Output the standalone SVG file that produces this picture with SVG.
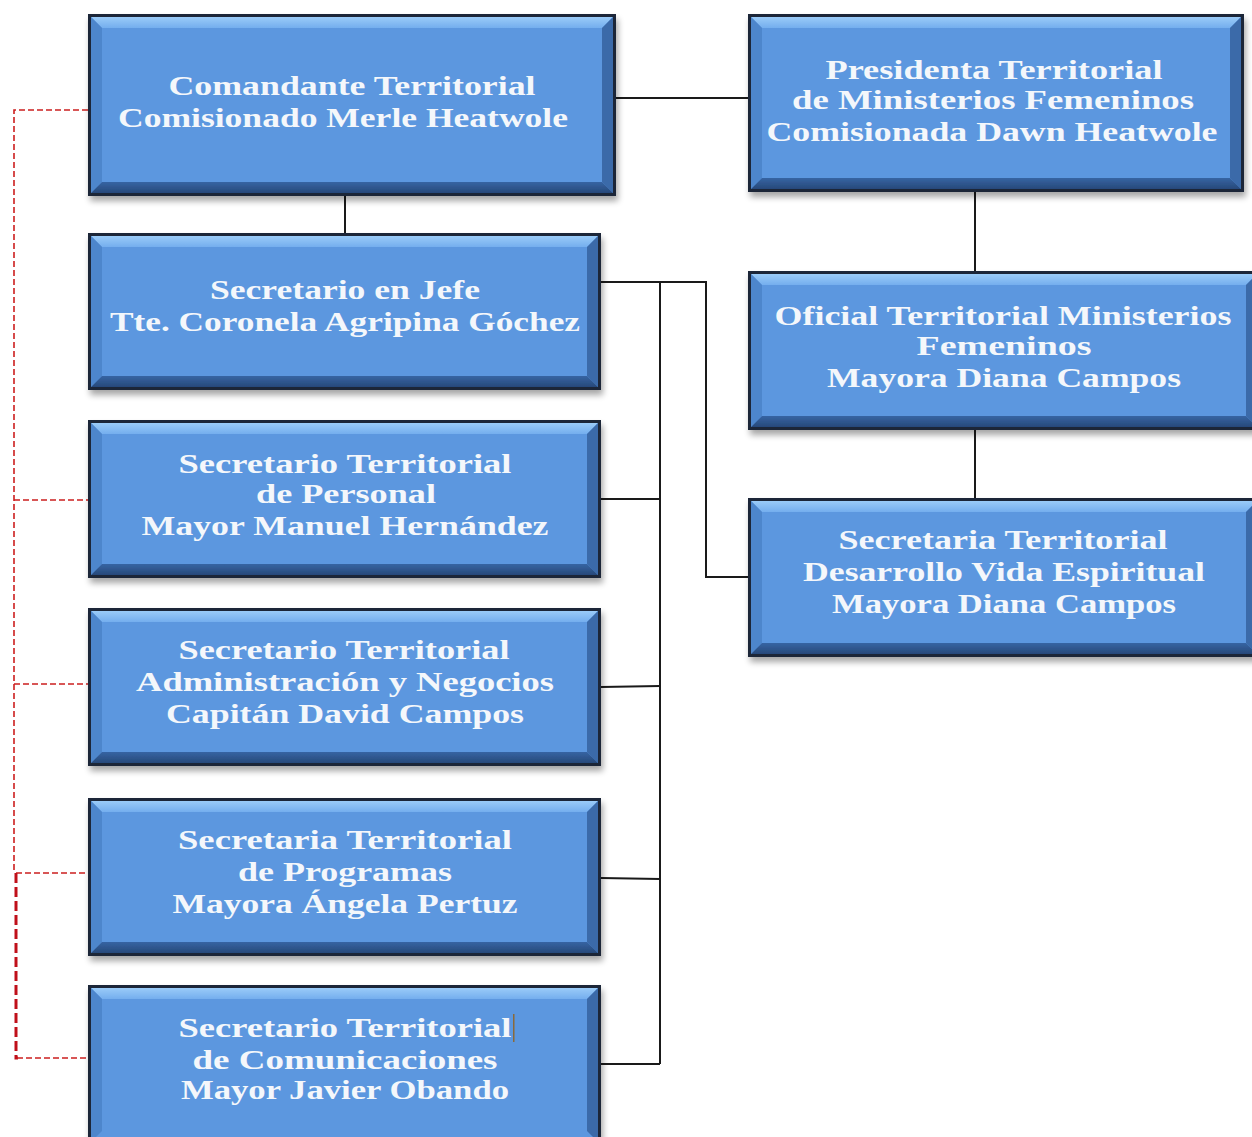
<svg xmlns="http://www.w3.org/2000/svg" width="1252" height="1137" viewBox="0 0 1252 1137">
<defs>
<filter id="sh" x="-5%" y="-5%" width="112%" height="120%">
<feGaussianBlur in="SourceAlpha" stdDeviation="3"/>
<feOffset dx="2" dy="5" result="b"/>
<feComponentTransfer><feFuncA type="linear" slope="0.35"/></feComponentTransfer>
<feMerge><feMergeNode/><feMergeNode in="SourceGraphic"/></feMerge>
</filter>
<linearGradient id="gt" x1="0" y1="0" x2="0" y2="1"><stop offset="0" stop-color="#9ACBF8"/><stop offset="1" stop-color="#74AEEE"/></linearGradient>
<linearGradient id="gb" x1="0" y1="0" x2="0" y2="1"><stop offset="0" stop-color="#3664A3"/><stop offset="1" stop-color="#27497A"/></linearGradient>
</defs>
<style>
.out{fill:#1B2838}
.face{fill:#5C97DF}
.top{fill:url(#gt)}
.lft{fill:#4E86CC}
.rgt{fill:#3B6BA9}
.bot{fill:url(#gb)}
.t{font-family:"Liberation Serif","DejaVu Serif",serif;font-weight:bold;font-size:28px;fill:#F4F7FB;text-anchor:middle}
.ln{stroke:#1A1A1A;stroke-width:2;fill:none}
.rd{stroke:#CC1F1F;stroke-width:1.6;fill:none;stroke-dasharray:6 3}
.rd2{stroke:#C0101A;stroke-width:3;fill:none;stroke-dasharray:10 4}
</style>
<rect width="1252" height="1137" fill="#FFFFFF"/>

<g id="connectors">
<line class="ln" x1="616" y1="98" x2="748" y2="98"/>
<line class="ln" x1="345" y1="196" x2="345" y2="233"/>
<line class="ln" x1="975" y1="192" x2="975" y2="271"/>
<line class="ln" x1="975" y1="430" x2="975" y2="498"/>
<polyline class="ln" points="601,282 706,282 706,577 748,577"/>
<line class="ln" x1="660" y1="282" x2="660" y2="1064"/>
<line class="ln" x1="601" y1="499" x2="660" y2="499"/>
<line class="ln" x1="601" y1="687" x2="660" y2="686"/>
<line class="ln" x1="601" y1="878" x2="660" y2="879"/>
<line class="ln" x1="601" y1="1064" x2="660" y2="1064"/>
<polyline class="rd" points="88,110 14,110 14,873"/>
<line class="rd" x1="14" y1="500" x2="88" y2="500"/>
<line class="rd" x1="14" y1="684" x2="88" y2="684"/>
<line class="rd" x1="16" y1="873" x2="88" y2="873"/>
<polyline class="rd2" points="16,873 16,1058 18,1058"/>
<line class="rd" x1="17" y1="1058" x2="88" y2="1058"/>
</g>

<g id="n1" filter="url(#sh)">
<rect class="out" x="88" y="14" width="528" height="182"/>
<rect class="face" x="91" y="17" width="522" height="176"/>
<polygon class="top" points="91,17 613,17 602,28 102,28"/>
<polygon class="lft" points="91,17 102,28 102,182 91,193"/>
<polygon class="rgt" points="613,17 613,193 602,182 602,28"/>
<polygon class="bot" points="91,193 102,182 602,182 613,193"/>
</g>
<g id="n1t">
<text class="t" x="352" y="95" textLength="367" lengthAdjust="spacingAndGlyphs">Comandante Territorial</text>
<text class="t" x="343" y="127" textLength="450" lengthAdjust="spacingAndGlyphs">Comisionado Merle Heatwole</text>
</g>

<g id="n2" filter="url(#sh)">
<rect class="out" x="748" y="14" width="496" height="178"/>
<rect class="face" x="751" y="17" width="490" height="172"/>
<polygon class="top" points="751,17 1241,17 1230,28 762,28"/>
<polygon class="lft" points="751,17 762,28 762,178 751,189"/>
<polygon class="rgt" points="1241,17 1241,189 1230,178 1230,28"/>
<polygon class="bot" points="751,189 762,178 1230,178 1241,189"/>
</g>
<g id="n2t">
<text class="t" x="994" y="79" textLength="337" lengthAdjust="spacingAndGlyphs">Presidenta  Territorial</text>
<text class="t" x="993" y="109" textLength="402" lengthAdjust="spacingAndGlyphs">de Ministerios Femeninos</text>
<text class="t" x="992" y="141" textLength="451" lengthAdjust="spacingAndGlyphs">Comisionada Dawn Heatwole</text>
</g>

<g id="n3" filter="url(#sh)">
<rect class="out" x="88" y="233" width="513" height="157"/>
<rect class="face" x="91" y="236" width="507" height="151"/>
<polygon class="top" points="91,236 598,236 587,247 102,247"/>
<polygon class="lft" points="91,236 102,247 102,376 91,387"/>
<polygon class="rgt" points="598,236 598,387 587,376 587,247"/>
<polygon class="bot" points="91,387 102,376 587,376 598,387"/>
</g>
<g id="n3t">
<text class="t" x="345" y="299" textLength="270" lengthAdjust="spacingAndGlyphs">Secretario en Jefe</text>
<text class="t" x="345" y="331" textLength="470" lengthAdjust="spacingAndGlyphs">Tte. Coronela  Agripina  Góchez</text>
</g>

<g id="n4" filter="url(#sh)">
<rect class="out" x="88" y="420" width="513" height="158"/>
<rect class="face" x="91" y="423" width="507" height="152"/>
<polygon class="top" points="91,423 598,423 587,434 102,434"/>
<polygon class="lft" points="91,423 102,434 102,564 91,575"/>
<polygon class="rgt" points="598,423 598,575 587,564 587,434"/>
<polygon class="bot" points="91,575 102,564 587,564 598,575"/>
</g>
<g id="n4t">
<text class="t" x="345" y="473" textLength="333" lengthAdjust="spacingAndGlyphs">Secretario Territorial</text>
<text class="t" x="346" y="503" textLength="180" lengthAdjust="spacingAndGlyphs">de Personal</text>
<text class="t" x="345" y="535" textLength="407" lengthAdjust="spacingAndGlyphs">Mayor Manuel Hernández</text>
</g>

<g id="n5" filter="url(#sh)">
<rect class="out" x="88" y="608" width="513" height="158"/>
<rect class="face" x="91" y="611" width="507" height="152"/>
<polygon class="top" points="91,611 598,611 587,622 102,622"/>
<polygon class="lft" points="91,611 102,622 102,752 91,763"/>
<polygon class="rgt" points="598,611 598,763 587,752 587,622"/>
<polygon class="bot" points="91,763 102,752 587,752 598,763"/>
</g>
<g id="n5t">
<text class="t" x="344" y="659" textLength="331" lengthAdjust="spacingAndGlyphs">Secretario Territorial</text>
<text class="t" x="345" y="691" textLength="418" lengthAdjust="spacingAndGlyphs">Administración y Negocios</text>
<text class="t" x="345" y="723" textLength="358" lengthAdjust="spacingAndGlyphs">Capitán David Campos</text>
</g>

<g id="n6" filter="url(#sh)">
<rect class="out" x="88" y="798" width="513" height="158"/>
<rect class="face" x="91" y="801" width="507" height="152"/>
<polygon class="top" points="91,801 598,801 587,812 102,812"/>
<polygon class="lft" points="91,801 102,812 102,942 91,953"/>
<polygon class="rgt" points="598,801 598,953 587,942 587,812"/>
<polygon class="bot" points="91,953 102,942 587,942 598,953"/>
</g>
<g id="n6t">
<text class="t" x="345" y="849" textLength="334" lengthAdjust="spacingAndGlyphs">Secretaria  Territorial</text>
<text class="t" x="345" y="881" textLength="214" lengthAdjust="spacingAndGlyphs">de Programas</text>
<text class="t" x="345" y="913" textLength="345" lengthAdjust="spacingAndGlyphs">Mayora Ángela Pertuz</text>
</g>

<g id="n7" filter="url(#sh)">
<rect class="out" x="88" y="985" width="513" height="160"/>
<rect class="face" x="91" y="988" width="507" height="154"/>
<polygon class="top" points="91,988 598,988 587,999 102,999"/>
<polygon class="lft" points="91,988 102,999 102,1131 91,1142"/>
<polygon class="rgt" points="598,988 598,1142 587,1131 587,999"/>
</g>
<g id="n7t">
<text class="t" x="345" y="1037" textLength="333" lengthAdjust="spacingAndGlyphs">Secretario  Territorial</text>
<rect x="513" y="1014" width="1.5" height="28" fill="#8A6A3A"/>
<text class="t" x="345" y="1069" textLength="305" lengthAdjust="spacingAndGlyphs">de Comunicaciones</text>
<text class="t" x="345" y="1099" textLength="328" lengthAdjust="spacingAndGlyphs">Mayor Javier Obando</text>
</g>

<g id="n8" filter="url(#sh)">
<rect class="out" x="748" y="271" width="512" height="159"/>
<rect class="face" x="751" y="274" width="506" height="153"/>
<polygon class="top" points="751,274 1257,274 1246,285 762,285"/>
<polygon class="lft" points="751,274 762,285 762,416 751,427"/>
<polygon class="rgt" points="1257,274 1257,427 1246,416 1246,285"/>
<polygon class="bot" points="751,427 762,416 1246,416 1257,427"/>
</g>
<g id="n8t">
<text class="t" x="1003" y="325" textLength="457" lengthAdjust="spacingAndGlyphs">Oficial Territorial Ministerios</text>
<text class="t" x="1004" y="355" textLength="175" lengthAdjust="spacingAndGlyphs">Femeninos</text>
<text class="t" x="1004" y="387" textLength="354" lengthAdjust="spacingAndGlyphs">Mayora Diana Campos</text>
</g>

<g id="n9" filter="url(#sh)">
<rect class="out" x="748" y="498" width="512" height="159"/>
<rect class="face" x="751" y="501" width="506" height="153"/>
<polygon class="top" points="751,501 1257,501 1246,512 762,512"/>
<polygon class="lft" points="751,501 762,512 762,643 751,654"/>
<polygon class="rgt" points="1257,501 1257,654 1246,643 1246,512"/>
<polygon class="bot" points="751,654 762,643 1246,643 1257,654"/>
</g>
<g id="n9t">
<text class="t" x="1003" y="549" textLength="329" lengthAdjust="spacingAndGlyphs">Secretaria Territorial</text>
<text class="t" x="1004" y="581" textLength="402" lengthAdjust="spacingAndGlyphs">Desarrollo Vida Espiritual</text>
<text class="t" x="1004" y="613" textLength="344" lengthAdjust="spacingAndGlyphs">Mayora Diana Campos</text>
</g>
</svg>
